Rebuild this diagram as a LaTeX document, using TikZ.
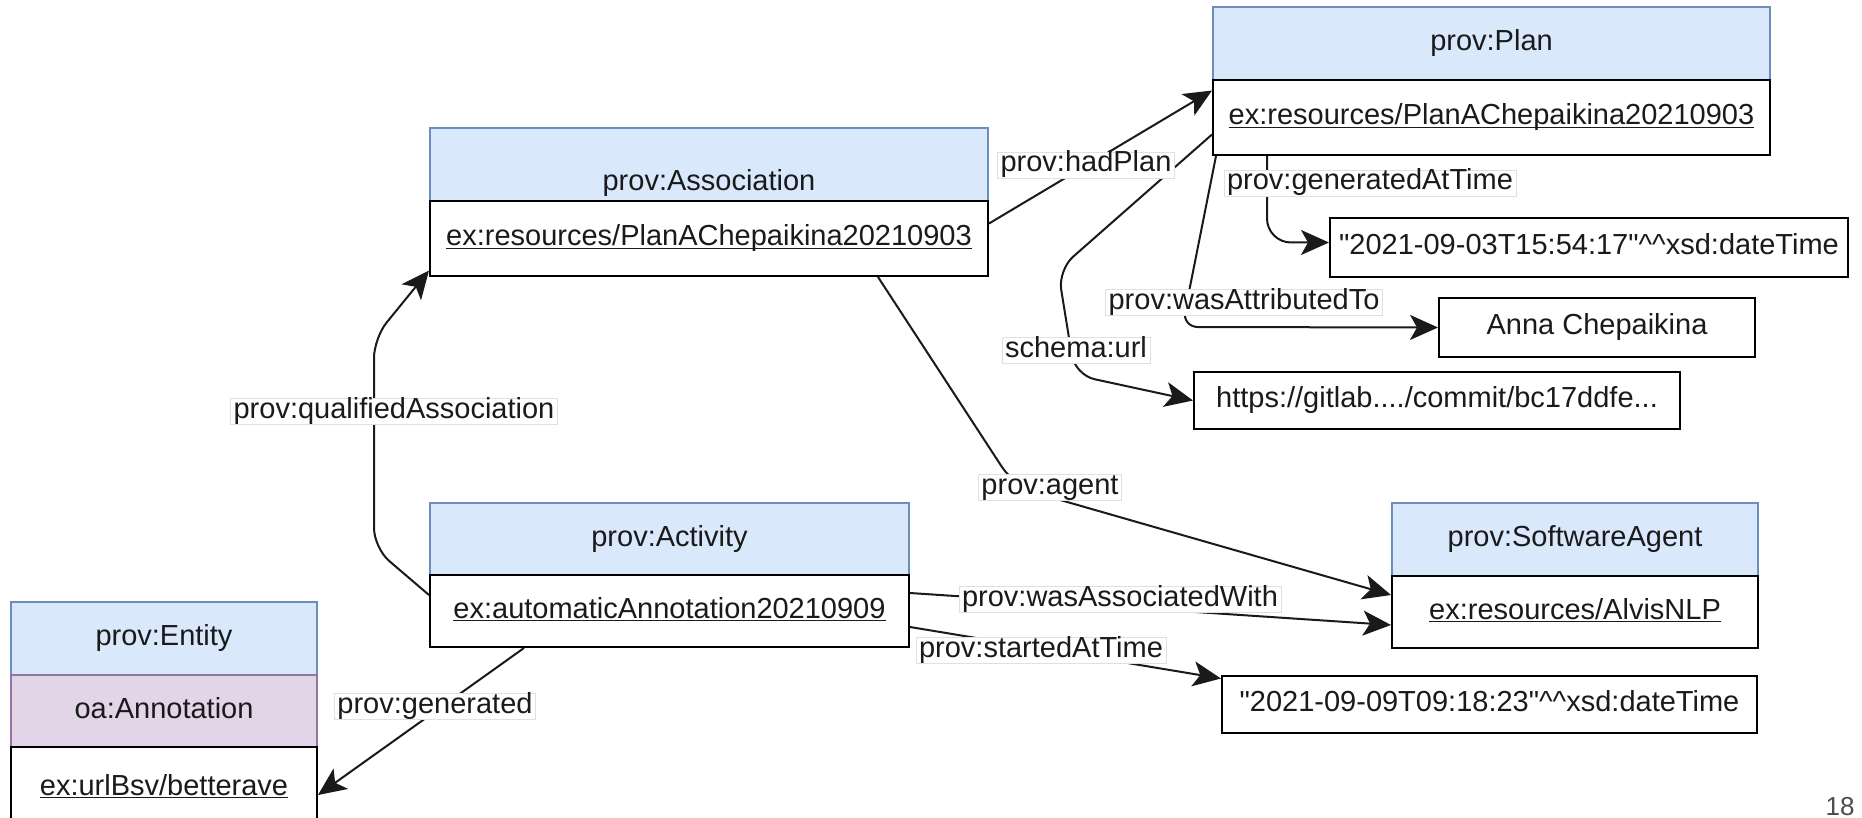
\documentclass[tikz,border=0pt]{standalone}
\usepackage{fontspec}
\setmainfont{Liberation Sans}[Ligatures=TeXOff]
\usetikzlibrary{arrows.meta,calc}
\definecolor{hdrfill}{HTML}{DAE8FC}
\definecolor{hdrline}{HTML}{6C8EBF}
\definecolor{purfill}{HTML}{E1D5E7}
\definecolor{purline}{HTML}{9673A6}
\definecolor{ink}{HTML}{1A1A1A}
\newcommand\myul[1]{\underline{\smash{#1}}}
\tikzset{
  txt/.style={text=ink, text height=0.8em, text depth=0.1em},
  sz/.style 2 args={minimum width=#1*0.5pt, minimum height=#2*0.5pt},
  box/.style={txt, rectangle, draw=black, line width=1pt, inner sep=0pt},
  hdr/.style={box, draw=hdrline, fill=hdrfill},
  pur/.style={box, draw=purline, fill=purfill},
  body/.style={box, fill=white},
  lbl/.style={txt, fill=white, draw=black!12, line width=0.4pt, inner xsep=1.5pt, inner ysep=2pt},
  conn/.style={draw=ink, line width=1pt},
  arr/.style={conn, -{Stealth[length=14pt,width=12.5pt,inset=3.5pt]}},
}
\begin{document}
\begin{tikzpicture}[x=0.5pt,y=-0.5pt, font=\fontsize{14.5pt}{17pt}\selectfont]
\useasboundingbox (0,0) rectangle (1862,818);
\fill[white] (0,0) rectangle (1862,818);

% prov:Plan
\node[hdr, sz={557}{73}] (planH) at (1491.5,43.5) {prov:Plan};
\node[body, sz={557}{75}] (planB) at (1491.5,117.5) {\myul{ex:resources/PlanAChepaikina20210903}};
\node[body, sz={518}{59}] (date1) at (1589,247.5) {"2021-09-03T15:54:17"\textasciicircum\textasciicircum xsd:dateTime};
\node[body, sz={316}{59}] (anna) at (1597,327.5) {Anna Chepaikina};
\node[body, sz={486}{57}] (gitlab) at (1437,400.5) {https://gitlab..../commit/bc17ddfe...};

% prov:Association
\node[hdr, sz={558}{73}] (assocH) at (709,164.5) {};
\node[txt] (assocT) at (709,184) {prov:Association};
\node[body, sz={558}{75}] (assocB) at (709,238.5) {\myul{ex:resources/PlanAChepaikina20210903}};

% prov:Activity
\node[hdr, sz={479}{72}] (actH) at (669.5,539) {prov:Activity};
\node[body, sz={479}{72}] (actB) at (669.5,611) {\myul{ex:automaticAnnotation20210909}};

% prov:SoftwareAgent
\node[hdr, sz={366}{73}] (swH) at (1575,539.5) {prov:SoftwareAgent};
\node[body, sz={366}{72}] (swB) at (1575,612) {\myul{ex:resources/AlvisNLP}};
\node[body, sz={535}{57}] (date2) at (1489.5,704.5) {"2021-09-09T09:18:23"\textasciicircum\textasciicircum xsd:dateTime};

% prov:Entity
\node[hdr, sz={306}{73}] (entH) at (164,638.5) {prov:Entity};
\node[pur, sz={306}{72}] (entA) at (164,711) {oa:Annotation};
\node[body, sz={306}{82}] (entB) at (164,788) {\myul{ex:urlBsv/betterave}};

% page number
\node[anchor=base, inner sep=0pt, font=\fontsize{13pt}{15pt}\selectfont, text=black!70] (pg) at (1840,815) {18};

% connectors
\draw[arr] ($(assocB.east)+(0,-15)$) -- ($(planB.west)+(0,-27)$);
\draw[arr, rounded corners=10pt] ($(actB.west)+(0,-16)$) -- (374,548) -- (374,338) -- ($(assocB.west)+(0,32)$);
\draw[arr, rounded corners=12pt] ($(assocB.south)+(169,0)$) -- (1015,487) -- ($(swB.west)+(0,-17)$);
\draw[arr] ($(actB.east)+(0,-18)$) -- ($(swB.west)+(0,13)$);
\draw[arr] ($(actB.east)+(0,16)$) -- ($(date2.west)+(0,-26)$);
\draw[arr, rounded corners=12pt] ($(planB.south west)+(55,0)$) |- ($(date1.west)+(0,-5)$);
\draw[arr, rounded corners=8pt] ($(planB.south west)+(4,0)$) -- (1182,327) -- (anna.west);
\draw[arr, rounded corners=10pt] ($(planB.west)+(0,17)$) -- (1058,270) -- (1075,375) -- (gitlab.west);
\draw[arr] ($(actB.south west)+(95,0)$) -- ($(entB.east)+(0,7)$);

% labels
\node[lbl] (lHad) at (1086,165) {prov:hadPlan};
\node[lbl] (lGen) at (1370,183) {prov:generatedAtTime};
\node[lbl] (lAttr) at (1244,302) {prov:wasAttributedTo};
\node[lbl] (lUrl) at (1076,350) {schema:url};
\node[lbl] (lQual) at (394,411) {prov:qualifiedAssociation};
\node[lbl] (lAgent) at (1050,487) {prov:agent};
\node[lbl] (lAssoc) at (1120,599) {prov:wasAssociatedWith};
\node[lbl] (lStart) at (1041,650) {prov:startedAtTime};
\node[lbl] (lGend) at (435,706) {prov:generated};
\end{tikzpicture}
\end{document}
